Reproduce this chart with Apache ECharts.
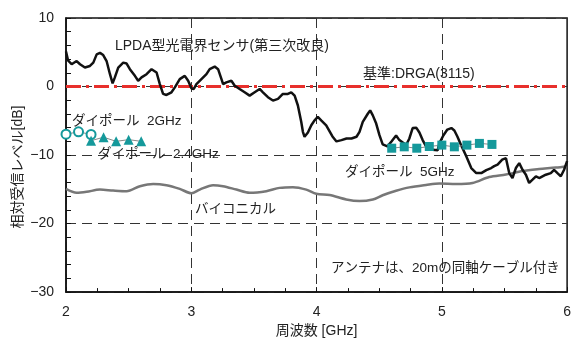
<!DOCTYPE html>
<html><head><meta charset="utf-8">
<script src="https://cdn.jsdelivr.net/npm/echarts@6/dist/echarts.min.js"></script>
<style>html,body{margin:0;padding:0;background:#fff}#c{width:574px;height:343px}</style>
</head><body><div id="c"></div>
<script>
// LPDA optical E-field sensor (3rd improvement): [GHz, dB]
const lpdaFreq = [2.000,2.016,2.045,2.058,2.085,2.112,2.151,2.191,2.218,2.245,2.271,2.297,2.324,2.351,2.372,2.390,2.417,2.457,2.484,2.510,2.550,2.576,2.603,2.643,2.683,2.723,2.749,2.775,2.802,2.842,2.869,2.908,2.948,2.975,3.002,3.020,3.041,3.081,3.121,3.147,3.187,3.214,3.241,3.254,3.280,3.320,3.347,3.386,3.426,3.466,3.506,3.546,3.572,3.612,3.652,3.692,3.731,3.771,3.798,3.825,3.851,3.878,3.891,3.904,3.931,3.958,3.984,4.010,4.037,4.077,4.127,4.159,4.199,4.239,4.279,4.319,4.343,4.369,4.409,4.428,4.449,4.476,4.502,4.528,4.566,4.598,4.635,4.661,4.715,4.741,4.767,4.797,4.821,4.847,4.874,4.927,4.967,4.980,5.012,5.044,5.076,5.100,5.124,5.155,5.195,5.235,5.275,5.315,5.355,5.394,5.418,5.445,5.482,5.512,5.538,5.564,5.591,5.618,5.644,5.671,5.697,5.724,5.751,5.777,5.830,5.870,5.896,5.923,5.950,5.976,6.000];
const lpdaLevel = [5.12,3.82,3.25,3.00,3.72,3.25,2.77,3.00,3.49,4.69,4.91,4.59,3.72,1.80,0.46,1.33,2.77,3.49,3.35,2.53,1.56,0.84,1.33,1.80,2.53,2.05,0.36,-1.08,-1.23,-0.84,-0.12,1.08,1.56,0.84,-0.29,-0.36,0.36,1.08,1.80,2.53,2.91,2.53,1.08,0.36,0.61,0.84,0.12,-0.36,-0.84,-1.33,-0.84,-0.36,-0.84,-1.56,-2.05,-1.80,-1.08,-1.08,-0.84,-1.33,-2.77,-5.17,-6.61,-7.33,-6.71,-5.66,-4.94,-4.44,-4.94,-5.66,-7.29,-8.01,-7.82,-7.58,-7.58,-7.33,-6.61,-5.17,-3.97,-3.49,-4.21,-5.41,-7.10,-8.44,-8.73,-8.01,-7.14,-7.82,-8.54,-7.58,-6.06,-6.03,-6.71,-7.82,-8.73,-9.24,-9.31,-8.30,-7.14,-6.28,-6.06,-6.42,-7.29,-8.59,-10.17,-11.90,-12.63,-12.63,-12.19,-11.90,-11.62,-11.40,-10.68,-10.46,-12.63,-13.35,-11.90,-11.18,-12.15,-12.87,-14.07,-13.59,-13.10,-13.35,-12.87,-12.63,-12.15,-12.63,-13.10,-12.15,-10.89];
// Biconical
const biconFreq = [2.000,2.085,2.165,2.271,2.377,2.484,2.590,2.696,2.802,2.908,3.002,3.068,3.174,3.253,3.360,3.466,3.599,3.705,3.811,3.918,3.998,4.104,4.237,4.343,4.449,4.528,4.635,4.741,4.874,4.980,5.113,5.245,5.378,5.512,5.644,5.777,5.910,6.000];
const biconLevel = [-14.94,-15.51,-15.37,-15.04,-15.18,-15.27,-14.55,-14.21,-14.40,-14.94,-15.58,-15.04,-14.40,-14.55,-15.04,-15.51,-15.27,-14.79,-14.69,-15.04,-15.66,-15.84,-16.48,-16.71,-16.48,-15.87,-15.22,-14.72,-14.36,-14.14,-14.21,-14.07,-13.20,-12.84,-12.34,-12.05,-11.83,-11.62];
// Reference DRGA(3115)
const refFreq = [2, 6];
const refLevel = [0, 0];
// Dipoles
const dip2Freq = [2.0, 2.1, 2.2];
const dip2Level = [-6.96, -6.61, -7.0];
const dip24Freq = [2.2, 2.3, 2.4, 2.5, 2.6];
const dip24Level = [-7.9, -7.4, -8.0, -7.75, -8.0];
const dip5Freq = [4.6, 4.7, 4.8, 4.9, 5.0, 5.1, 5.2, 5.3, 5.4];
const dip5Level = [-9.0, -8.8, -9.0, -8.75, -8.55, -8.8, -8.55, -8.3, -8.45];
// axis
const xTicks = [2, 3, 4, 5, 6];
const yTicks = [10, 0, -10, -20, -30];
const xName = '周波数 [GHz]';
const yName = '相対受信レベル[dB]';

const zip = (a, b) => a.map((v, i) => [v, b[i]]);
const FONT = '"Liberation Sans", "Noto Sans CJK JP", sans-serif';
const TEAL = '#15999b';
const TXT = '#222';

const chart = echarts.init(document.getElementById('c'), null, {renderer: 'canvas'});
function txt(text, x, y, size) {
  return {type: 'text', x: x, y: y, z: 100,
    style: {text: text, font: (size || 13.5) + 'px ' + FONT, fill: TXT, align: 'left', verticalAlign: 'middle'}};
}
chart.setOption({
  animation: false,
  backgroundColor: '#fff',
  grid: {left: 66, right: 6, top: 18, bottom: 48, show: true, borderColor: '#111', borderWidth: 1.5, backgroundColor: 'transparent'},
  xAxis: {
    type: 'value', min: xTicks[0], max: xTicks[xTicks.length - 1], interval: 1,
    name: xName, nameLocation: 'middle', nameGap: 27,
    nameTextStyle: {fontSize: 14, color: TXT, fontFamily: FONT},
    axisLine: {show: true, onZero: false, lineStyle: {color: '#111', width: 1.5}},
    axisTick: {show: true, inside: true, length: 5, lineStyle: {color: '#111'}},
    minorTick: {show: true, splitNumber: 4, length: 4, lineStyle: {color: '#111'}},
    axisLabel: {fontSize: 14, color: TXT, fontFamily: FONT, margin: 13},
    splitLine: {show: true, lineStyle: {color: '#333', width: 1, type: [10, 6]}}
  },
  yAxis: {
    type: 'value', min: yTicks[yTicks.length - 1], max: yTicks[0], interval: 10,
    axisLine: {show: true, onZero: false, lineStyle: {color: '#111', width: 1.5}},
    axisTick: {show: true, inside: true, length: 5, lineStyle: {color: '#111'}},
    minorTick: {show: true, splitNumber: 5, length: 5, lineStyle: {color: '#111'}},
    axisLabel: {fontSize: 14, color: TXT, fontFamily: FONT, margin: 12,
      formatter: v => String(v).replace('-', '\u2212')},
    splitLine: {show: true, lineStyle: {color: '#333', width: 1, type: [10, 6]}}
  },
  graphic: [
    {type: 'text', x: 18, y: 167, rotation: Math.PI / 2, z: 100,
      style: {text: yName, font: '14px ' + FONT, fill: TXT, align: 'center', verticalAlign: 'middle'}},
    txt('LPDA型光電界センサ(第三次改良)', 115, 46, 14),
    txt('基準:DRGA(3115)', 363, 74, 14),
    txt('ダイポール  2GHz', 72, 121),
    txt('ダイポール  2.4GHz', 98, 154),
    txt('ダイポール  5GHz', 345, 172),
    txt('バイコニカル', 195, 209),
    txt('アンテナは、20mの同軸ケーブル付き', 331, 268)
  ],
  series: [
    {type: 'line', name: 'バイコニカル', data: zip(biconFreq, biconLevel), showSymbol: false, symbol: 'none',
      smooth: 0.3, lineStyle: {color: '#777', width: 2.5}, z: 2},
    {type: 'line', name: '基準:DRGA(3115)', data: zip(refFreq, refLevel), symbol: 'none',
      lineStyle: {color: '#e8302c', width: 3, type: [15, 5, 3, 5]}, z: 3},
    {type: 'line', name: 'LPDA型光電界センサ', data: zip(lpdaFreq, lpdaLevel), symbol: 'none',
      lineStyle: {color: '#111', width: 2.5}, z: 4},
    {type: 'line', name: 'ダイポール 2GHz', data: zip(dip2Freq, dip2Level), symbol: 'emptyCircle', symbolSize: 9,
      showAllSymbol: true, showSymbol: true,
      itemStyle: {color: TEAL, borderWidth: 1.3}, lineStyle: {color: '#888', width: 1}, z: 5},
    {type: 'line', name: 'ダイポール 2.4GHz', data: zip(dip24Freq, dip24Level), symbol: 'triangle', symbolSize: 10,
      showAllSymbol: true,
      itemStyle: {color: TEAL}, lineStyle: {color: '#888', width: 1}, z: 5},
    {type: 'line', name: 'ダイポール 5GHz', data: zip(dip5Freq, dip5Level), symbol: 'rect', symbolSize: 9,
      showAllSymbol: true,
      itemStyle: {color: TEAL}, lineStyle: {color: '#888', width: 1}, z: 5}
  ]
});
</script></body></html>
